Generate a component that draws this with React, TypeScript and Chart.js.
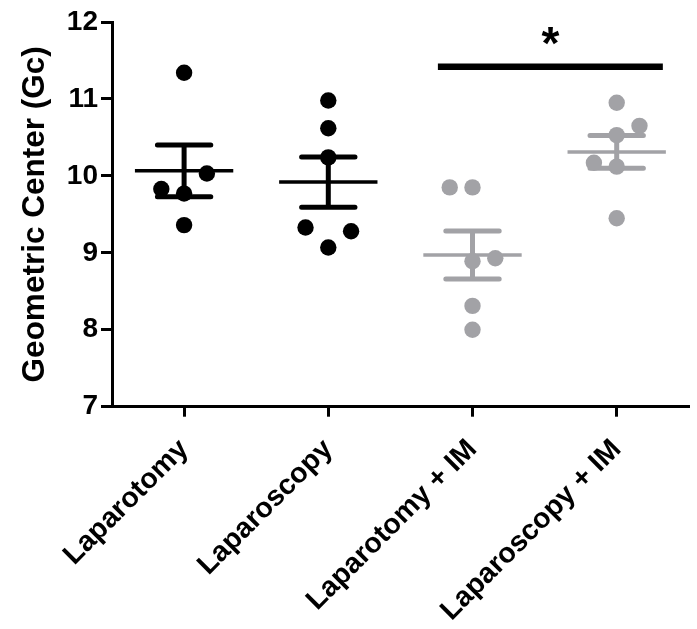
import React, { useEffect, useRef } from 'react';
import { Chart, registerables } from 'chart.js';

Chart.register(...registerables);

// ---- data ----
const categories = ['Laparotomy', 'Laparoscopy', 'Laparotomy + IM', 'Laparoscopy + IM'];

const laparotomy = [11.34, 10.03, 9.83, 9.77, 9.36];
const laparoscopy = [10.98, 10.62, 10.24, 9.33, 9.28, 9.07];
const laparotomyIM = [9.85, 9.85, 8.89, 8.93, 8.31, 8.0];
const laparoscopyIM = [10.95, 10.65, 10.53, 10.17, 10.12, 9.45];

// horizontal scatter side of each point (-1 left, 0 centre, 1 right)
const jitterLaparotomy = [0, 1, -1, 0, 0];
const jitterLaparoscopy = [0, 0, 0, -1, 1, 0];
const jitterLaparotomyIM = [-1, 0, 0, 1, 0, 0];
const jitterLaparoscopyIM = [0, 1, 0, -1, 0, 0];

const yTicks = [7, 8, 9, 10, 11, 12];

// significance bracket between groups
const sigFrom = 1.76;
const sigTo = 3.32;
const sigY = 11.42;
const sigStarY = 11.68;
const sigLabel = '*';

const yTitle = 'Geometric Center (Gc)';

// ---- styles ----
const BLACK = '#000000';
const GRAY = '#a2a2a6';
const groupColors = [BLACK, BLACK, GRAY, GRAY];
const FONT = '"Liberation Sans", Arial, sans-serif';
const JITTER = 0.158;
const MEAN_HALF = 0.341;
const CAP_HALF = 0.185;

const groups = [laparotomy, laparoscopy, laparotomyIM, laparoscopyIM];
const jitters = [jitterLaparotomy, jitterLaparoscopy, jitterLaparotomyIM, jitterLaparoscopyIM];

function meanOf(a: number[]) {
  return a.reduce((s, v) => s + v, 0) / a.length;
}
function semOf(a: number[]) {
  const m = meanOf(a);
  const v = a.reduce((s, x) => s + (x - m) * (x - m), 0) / (a.length - 1);
  return Math.sqrt(v) / Math.sqrt(a.length);
}

const sigPlugin = {
  id: 'sigStar',
  afterDatasetsDraw(chart: any) {
    const ctx = chart.ctx;
    const x = chart.scales.x2.getPixelForValue((sigFrom + sigTo) / 2);
    const y = chart.scales.y.getPixelForValue(sigStarY);
    ctx.save();
    ctx.fillStyle = BLACK;
    ctx.font = `bold 46px ${FONT}`;
    ctx.textAlign = 'center';
    ctx.textBaseline = 'middle';
    ctx.fillText(sigLabel, x, y);
    ctx.restore();
  },
};

export default function App() {
  const ref = useRef<HTMLCanvasElement>(null);

  useEffect(() => {
    if (!ref.current) return;
    const datasets: any[] = [];
    groups.forEach((vals, i) => {
      const color = groupColors[i];
      const m = meanOf(vals);
      const s = semOf(vals);
      datasets.push({
        type: 'line',
        data: vals.map((v, k) => ({ x: i + jitters[i][k] * JITTER, y: v })),
        showLine: false,
        pointRadius: 8.2,
        pointHoverRadius: 8.2,
        pointBackgroundColor: color,
        pointBorderWidth: 0,
        pointBorderColor: color,
        xAxisID: 'x2',
        yAxisID: 'y',
        order: 0,
        clip: false,
      });
      datasets.push({
        type: 'line',
        data: [
          { x: i - MEAN_HALF, y: m },
          { x: i + MEAN_HALF, y: m },
        ],
        borderColor: color,
        borderWidth: 3.5,
        borderCapStyle: 'butt',
        pointRadius: 0,
        xAxisID: 'x2',
        yAxisID: 'y',
        order: 1,
        clip: false,
      });
      datasets.push({
        type: 'line',
        data: [
          { x: i - CAP_HALF, y: m + s },
          { x: i + CAP_HALF, y: m + s },
          { x: i, y: null },
          { x: i, y: m + s },
          { x: i, y: m - s },
          { x: i, y: null },
          { x: i - CAP_HALF, y: m - s },
          { x: i + CAP_HALF, y: m - s },
        ],
        spanGaps: false,
        borderColor: color,
        borderWidth: 5,
        borderCapStyle: 'round',
        pointRadius: 0,
        xAxisID: 'x2',
        yAxisID: 'y',
        order: 1,
        clip: false,
      });
    });
    datasets.push({
      type: 'line',
      data: [
        { x: sigFrom, y: sigY },
        { x: sigTo, y: sigY },
      ],
      borderColor: BLACK,
      borderWidth: 6.5,
      borderCapStyle: 'butt',
      pointRadius: 0,
      xAxisID: 'x2',
      yAxisID: 'y',
      order: 1,
      clip: false,
    });

    const chart = new Chart(ref.current, {
      type: 'line',
      data: { labels: categories, datasets },
      options: {
        animation: false,
        responsive: false,
        events: [],
        layout: { padding: { top: 22, right: 6, left: 0, bottom: 0 } },
        plugins: {
          legend: { display: false },
          tooltip: { enabled: false },
        },
        scales: {
          x: {
            type: 'category',
            labels: categories,
            offset: true,
            position: 'bottom',
            border: { display: true, color: BLACK, width: 3 },
            grid: {
              display: true,
              offset: false,
              drawOnChartArea: false,
              drawTicks: true,
              tickLength: 10,
              tickWidth: 3,
              tickColor: BLACK,
              lineWidth: 3,
              color: BLACK,
            },
            ticks: {
              color: BLACK,
              font: { family: FONT, size: 28.5, weight: 'bold' },
              minRotation: 45,
              maxRotation: 45,
              padding: 16,
              autoSkip: false,
            },
            afterFit: (scale: any) => {
              scale.height = 222.3;
            },
          },
          x2: {
            type: 'linear',
            display: false,
            min: -0.5,
            max: 3.5,
          },
          y: {
            type: 'linear',
            min: yTicks[0],
            max: yTicks[yTicks.length - 1],
            afterBuildTicks: (scale: any) => {
              scale.ticks = yTicks.map((v) => ({ value: v }));
            },
            border: { display: true, color: BLACK, width: 3 },
            grid: {
              display: true,
              drawOnChartArea: false,
              drawTicks: true,
              tickLength: 11,
              tickWidth: 3,
              tickColor: BLACK,
              lineWidth: 3,
              color: BLACK,
            },
            ticks: {
              color: BLACK,
              font: { family: FONT, size: 28, weight: 'bold' },
              padding: 3,
            },
            title: {
              display: true,
              text: yTitle,
              color: BLACK,
              font: { family: FONT, size: 31.5, weight: 'bold' },
              padding: { top: 16, bottom: 0 },
            },
            afterFit: (scale: any) => {
              scale.width = 112;
            },
          },
        },
      } as any,
      plugins: [sigPlugin],
    });
    return () => chart.destroy();
  }, []);

  return (
    <div style={{ position: 'absolute', left: 0, top: 0, width: 697, height: 629, background: '#fff' }}>
      <canvas ref={ref} width={697} height={629} style={{ display: 'block' }} />
    </div>
  );
}
